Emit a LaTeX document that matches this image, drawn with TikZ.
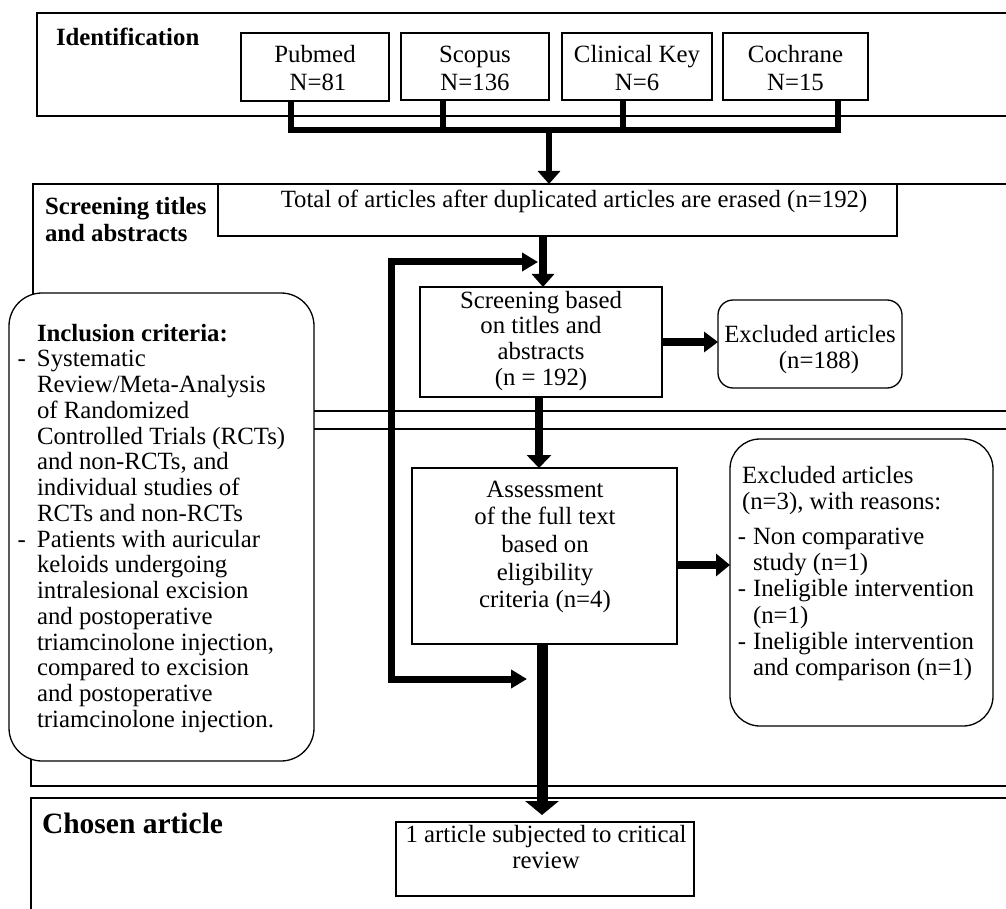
\documentclass[tikz,border=0pt]{standalone}
\usepackage{fontspec}
\setmainfont{Liberation Serif}
\usetikzlibrary{arrows.meta}
\newcommand\fsz[1]{\fontsize{24.8}{#1}\selectfont}
\newcommand\dashitem[1]{\leavevmode\llap{-\hspace{#1}}}
\begin{document}
\begin{tikzpicture}[x=1pt,y=-1pt,
  sect/.style={draw,line width=1.4pt},
  box/.style={draw,line width=1.3pt,fill=white,inner sep=0pt,outer sep=0pt},
  rbox/.style={box,rounded corners=#1},
  txt/.style={inner sep=0pt,outer sep=0pt},
  thick6/.style={line width=6pt},
]
\useasboundingbox (0,0) rectangle (1006,909);
\clip (0,0) rectangle (1006,909);

% sections
\draw[sect] (37,13) rectangle (1015,116);
\draw[sect] (33,184) rectangle (1015,411);
\draw[sect] (31,429) rectangle (1015,786);
\draw[sect] (31,798) rectangle (1015,920);

% section labels
\node[txt,anchor=base west] (idl) at (56,46) {\fsz{26}\bfseries Identification};
\node[txt,anchor=base west] (scl) at (45,215) {\parbox[t]{200pt}{\raggedright\fsz{27}\bfseries Screening titles\\and abstracts}};
\node[txt,anchor=base west] (chl) at (42,833) {\fontsize{29.5}{32}\selectfont\bfseries Chosen article};

% source boxes
\node[box,minimum width=148pt,minimum height=68pt] (pub) at (315,67) {};
\node[box,minimum width=148pt,minimum height=67pt] (sco) at (475,66.5) {};
\node[box,minimum width=150pt,minimum height=67pt] (cli) at (637,66.5) {};
\node[box,minimum width=145pt,minimum height=67pt] (coc) at (795.5,66.5) {};
\node[txt,anchor=base] (pubt) at (315,63) {\parbox[t]{140pt}{\centering\fsz{28}Pubmed\\\hspace*{6pt}N=81}};
\node[txt,anchor=base] (scot) at (475,63) {\parbox[t]{140pt}{\centering\fsz{28}Scopus\\N=136}};
\node[txt,anchor=base] (clit) at (637,63) {\parbox[t]{146pt}{\centering\fsz{28}Clinical Key\\N=6}};
\node[txt,anchor=base] (coct) at (795.5,63) {\parbox[t]{140pt}{\centering\fsz{28}Cochrane\\N=15}};

% junction
\coordinate (j1) at (291,130);
\coordinate (j2) at (443,130);
\coordinate (j3) at (623,130);
\coordinate (j4) at (838,130);
\coordinate (jm) at (549,130);
\draw[thick6] (j1 |- pub.south) -- (j1) -- (j4) -- (j4 |- coc.south);
\draw[thick6] (j2 |- sco.south) -- (j2);
\draw[thick6] (j3 |- cli.south) -- (j3);

% total box
\node[box,minimum width=679pt,minimum height=52pt] (tot) at (557.5,210) {};
\node[txt,anchor=base] (tott) at (574,208) {\fsz{30}Total of articles after duplicated articles are erased (n=192)};
\draw[thick6,-{Triangle[length=13pt,width=22pt]}] (jm) -- (jm |- tot.north);

% inclusion box
\node[rbox=33pt,minimum width=305pt,minimum height=468pt] (inc) at (161.5,527) {};
\node[txt,anchor=base west] (inct) at (37,341) {\parbox[t]{276pt}{\raggedright\fsz{25.75}\textbf{Inclusion criteria:}\\
\dashitem{11pt}Systematic\\
Review/Meta-Analysis\\
of Randomized\\
Controlled Trials (RCTs)\\
and non-RCTs, and\\
individual studies of\\
RCTs and non-RCTs\\
\dashitem{11pt}Patients with auricular\\
keloids undergoing\\
intralesional excision\\
and postoperative\\
triamcinolone injection,\\
compared to excision\\
and postoperative\\
triamcinolone injection.}};

% screening box
\node[box,minimum width=242pt,minimum height=110pt] (scr) at (541,342) {};
\node[txt,anchor=base] (scrt) at (541,308) {\parbox[t]{240pt}{\centering\fsz{25.7}Screening based\\on titles and\\abstracts\\(n = 192)}};

% excluded 1
\node[rbox=15pt,minimum width=184pt,minimum height=88pt] (ex1) at (810,344) {};
\node[txt,anchor=base] (ex1t) at (810,342) {\parbox[t]{180pt}{\centering\fsz{26}Excluded articles\\\hspace*{18pt}(n=188)}};

% assessment
\node[box,minimum width=265pt,minimum height=176pt] (ass) at (544.5,556) {};
\node[txt,anchor=base] (asst) at (545,497) {\parbox[t]{255pt}{\centering\fsz{27.7}Assessment\\of the full text\\based on\\eligibility\\criteria (n=4)}};

% excluded 2
\node[rbox=30pt,minimum width=263pt,minimum height=287pt] (ex2) at (861.5,582.5) {};
\node[txt,anchor=base west] (ex2t) at (753,483) {\parbox[t]{240pt}{\raggedright\fsz{26.3}\hspace*{-11pt}Excluded articles\\
\hspace*{-11pt}(n=3), with reasons:\\[8.7pt]
\dashitem{7pt}Non comparative\\
study (n=1)\\
\dashitem{7pt}Ineligible intervention\\
(n=1)\\
\dashitem{7pt}Ineligible intervention\\
and comparison (n=1)}};

% final
\node[box,minimum width=298pt,minimum height=74pt] (fin) at (545,859) {};
\node[txt,anchor=base] (fint) at (546,842) {\parbox[t]{292pt}{\centering\fsz{26}1 article subjected to critical\\review}};

% arrows
\coordinate (a1) at (543,0);
\draw[line width=8pt,-{Triangle[length=13pt,width=22pt]}] (a1 |- tot.south) -- (a1 |- scr.north);
\coordinate (lt) at (538,262);
\coordinate (l1) at (391,262);
\coordinate (l2) at (391,679);
\coordinate (lb) at (527,679);
\draw[line width=7pt,{Triangle[length=16pt,width=18pt]}-{Triangle[length=16pt,width=18pt]}] (lt) -- (l1) -- (l2) -- (lb);
\draw[line width=7.5pt,-{Triangle[length=14pt,width=20pt]}] (scr.east) -- (scr.east -| ex1.west);
\coordinate (a2) at (539,0);
\draw[line width=8pt,-{Triangle[length=13pt,width=24pt]}] (a2 |- scr.south) -- (a2 |- ass.north);
\coordinate (a3) at (0,565);
\draw[line width=8pt,-{Triangle[length=14pt,width=22pt]}] (a3 -| ass.east) -- (a3 -| ex2.west);
\coordinate (a4) at (542,0);
\draw[line width=11pt,-{Triangle[length=14pt,width=33pt]},shorten >=7pt] (a4 |- ass.south) -- (a4 |- fin.north);
\end{tikzpicture}
\end{document}
